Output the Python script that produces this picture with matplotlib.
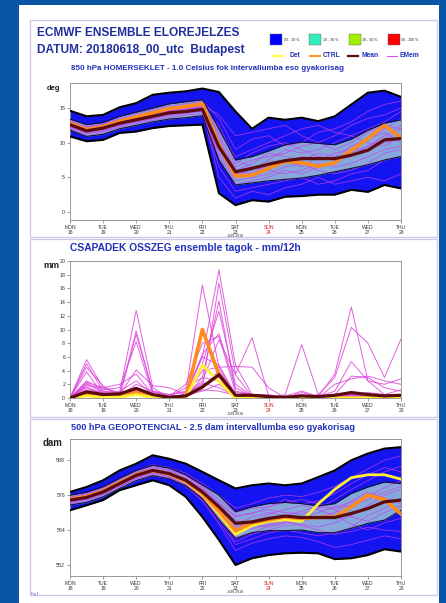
import numpy as np
import matplotlib
matplotlib.use('Agg')
import matplotlib.pyplot as plt
from matplotlib.patches import Rectangle
from matplotlib.lines import Line2D
import matplotlib.transforms as mtransforms

plt.rcParams['font.family'] = ['Liberation Sans', 'DejaVu Sans']

W, H = 446, 603

# time axis: 12h steps from MON 18 00utc to THU 28 00utc
steps = np.arange(0, 10.5, 0.5)
day_names = ['MON', 'TUE', 'WED', 'THU', 'FRI', 'SAT', 'SUN', 'MON', 'TUE', 'WED', 'THU']
day_nums = ['18', '19', '20', '21', '22', '23', '24', '25', '26', '27', '28']

# ---- 850 hPa temperature (deg C) ----
t850_max = [14.6, 13.8, 14.0, 15.1, 15.7, 16.9, 17.2, 17.4, 17.8, 17.3, 14.5, 12.0, 13.6, 13.3, 13.6, 13.1, 13.8, 15.5, 17.2, 17.5, 16.6]
t850_min = [10.9, 10.2, 10.4, 11.4, 11.6, 12.1, 12.4, 12.5, 12.6, 2.7, 1.0, 1.7, 1.5, 2.2, 2.3, 2.5, 2.5, 3.2, 2.9, 3.9, 3.4]
t850_band_hi = [13.4, 12.6, 12.9, 13.8, 14.4, 15.0, 15.6, 15.9, 16.2, 12.0, 7.5, 8.0, 8.8, 9.7, 10.1, 9.9, 9.7, 10.5, 11.8, 12.8, 13.3]
t850_band_lo = [11.8, 10.9, 11.2, 12.0, 12.5, 13.0, 13.4, 13.6, 13.9, 7.5, 3.9, 4.2, 4.5, 4.7, 4.9, 5.3, 5.8, 6.3, 6.8, 7.5, 8.0]
t850_mean = [12.6, 11.7, 12.1, 12.8, 13.3, 13.8, 14.3, 14.5, 14.8, 9.4, 5.8, 6.3, 6.9, 7.4, 7.7, 7.7, 7.7, 8.2, 8.9, 10.4, 10.6]
t850_ctrl = [12.8, 11.9, 12.3, 13.1, 13.7, 14.3, 14.9, 15.2, 15.6, 9.7, 5.2, 5.3, 6.3, 7.3, 7.1, 6.6, 7.1, 8.9, 10.6, 12.5, 10.7]
t850_members = [
    [12.9, 12.0, 12.4, 13.2, 13.8, 14.5, 15.0, 15.3, 15.6, 11.0, 7.0, 8.5, 9.5, 10.0, 9.0, 8.0, 7.5, 9.0, 10.5, 12.0, 13.5],
    [12.3, 11.4, 11.8, 12.5, 13.0, 13.4, 13.9, 14.2, 14.5, 8.0, 4.5, 5.0, 5.5, 6.5, 7.0, 6.0, 5.5, 6.0, 7.0, 8.5, 9.0],
    [13.2, 12.3, 12.7, 13.5, 14.2, 14.8, 15.3, 15.6, 16.0, 13.5, 9.0, 10.5, 11.0, 9.5, 10.0, 11.5, 12.0, 13.0, 14.5, 15.5, 16.0],
    [12.0, 11.0, 11.5, 12.2, 12.8, 13.2, 13.6, 14.0, 14.2, 6.5, 3.0, 3.5, 4.0, 4.5, 5.0, 4.0, 4.5, 5.5, 6.0, 7.5, 8.0],
    [12.7, 11.9, 12.3, 13.0, 13.6, 14.1, 14.6, 14.9, 15.2, 10.0, 6.5, 7.5, 8.0, 8.5, 9.5, 10.0, 9.0, 10.0, 11.5, 12.5, 12.0],
    [12.5, 11.6, 12.0, 12.7, 13.2, 13.7, 14.2, 14.4, 14.7, 9.0, 5.5, 6.0, 7.5, 9.0, 8.5, 9.0, 10.0, 11.0, 10.0, 9.5, 11.0],
    [12.8, 12.1, 12.2, 12.9, 13.5, 14.0, 14.5, 14.8, 15.0, 12.5, 7.5, 6.5, 6.0, 5.5, 6.0, 7.0, 6.5, 7.0, 8.0, 9.0, 9.5],
    [12.4, 11.5, 12.0, 12.8, 13.4, 13.9, 14.3, 14.6, 14.9, 7.5, 4.0, 4.5, 5.0, 6.0, 5.5, 6.5, 7.0, 8.5, 9.5, 11.0, 12.5],
    [13.0, 12.2, 12.6, 13.3, 13.9, 14.4, 14.9, 15.2, 15.4, 14.0, 11.0, 11.5, 12.0, 12.5, 11.0, 10.0, 11.0, 12.5, 13.5, 14.0, 15.0],
    [12.2, 11.3, 11.7, 12.4, 13.0, 13.5, 14.0, 14.3, 14.6, 5.0, 2.0, 3.0, 2.5, 3.5, 4.0, 5.0, 4.0, 4.5, 5.0, 4.5, 5.5],
    [12.6, 11.8, 12.1, 12.9, 13.4, 13.9, 14.4, 14.7, 15.0, 9.5, 6.0, 7.0, 8.5, 8.0, 7.5, 8.5, 8.0, 9.5, 10.5, 11.5, 10.0],
    [12.9, 11.9, 12.3, 13.1, 13.7, 14.2, 14.7, 15.0, 15.3, 11.5, 8.0, 9.0, 10.0, 11.0, 12.0, 12.5, 11.5, 11.0, 12.0, 13.0, 14.5],
    [12.7, 11.7, 12.2, 13.0, 13.5, 14.0, 14.6, 14.9, 15.1, 10.5, 6.0, 5.5, 7.0, 7.0, 8.0, 7.5, 8.5, 9.0, 9.0, 10.0, 10.5],
    [12.5, 11.6, 11.9, 12.6, 13.1, 13.6, 14.1, 14.5, 14.8, 8.5, 5.0, 6.5, 6.5, 7.5, 6.5, 8.0, 7.5, 8.0, 9.5, 10.5, 12.0],
]

# ---- precipitation (mm/12h) ----
rr_mean = [0, 0.9, 0.5, 0.6, 1.4, 0.5, 0.1, 0.3, 1.6, 3.4, 0.4, 0.4, 0.2, 0.1, 0.3, 0.2, 0.4, 0.8, 0.5, 0.3, 0.4]
rr_ctrl = [0, 0.6, 0.2, 0.3, 0.8, 0.1, 0, 0, 10.0, 3.4, 0, 0, 0, 0, 0, 0, 0, 0, 0, 0, 0]
rr_det = [0, 0.3, 0.1, 0.1, 0.5, 0.1, 0, 0, 4.8, 2.4, 0, 0, 0, 0, 0, 0, 0, 0, 0, 0, 0]
rr_members = [
    [0, 5.6, 1.5, 0.5, 1.2, 0.3, 0, 0.5, 6.0, 18.7, 4.8, 0.5, 0, 0.2, 0.5, 0.1, 0, 0.3, 0.5, 0.2, 0.3],
    [0, 5.0, 1.0, 0.8, 12.8, 1.5, 0, 0.2, 1.5, 16.8, 3.5, 8.8, 0.3, 0, 0.2, 0, 0.3, 0.5, 0.2, 0.5, 1.2],
    [0, 4.5, 1.8, 0.3, 9.8, 0.8, 0.5, 1.0, 16.5, 4.5, 4.6, 4.5, 1.5, 0, 0.3, 0.2, 0, 0, 0.2, 0, 0],
    [0, 3.8, 0.5, 0.2, 9.3, 1.0, 0.2, 1.5, 3.0, 14.2, 1.0, 0.5, 0, 0.5, 7.8, 0.5, 0, 0, 0.5, 0.3, 0.2],
    [0, 2.5, 1.2, 1.5, 8.2, 0.5, 0, 0.3, 5.0, 12.7, 2.0, 0.3, 0, 0, 0.8, 0.2, 3.5, 13.3, 2.5, 0.5, 0.5],
    [0, 2.2, 0.8, 0.5, 4.1, 1.8, 1.5, 0.5, 6.4, 9.4, 1.5, 0.2, 0, 0.2, 0, 0.5, 3.0, 10.3, 8.0, 3.0, 8.6],
    [0, 1.8, 1.5, 2.0, 3.5, 0.5, 0.3, 2.0, 8.0, 9.0, 0.8, 0.5, 0.2, 0, 0.2, 0.2, 1.0, 5.3, 2.5, 2.0, 2.8],
    [0, 1.5, 0.5, 1.0, 2.5, 0.5, 0, 0.5, 2.5, 8.5, 3.4, 0.2, 0, 0.3, 1.0, 0.2, 0.5, 3.2, 3.0, 1.5, 1.0],
    [0, 1.2, 0.8, 0.3, 2.0, 1.0, 0.5, 0.8, 6.0, 4.8, 0.5, 0.2, 0.1, 0, 0.3, 0, 2.0, 2.8, 3.2, 2.5, 2.0],
    [0, 2.0, 1.0, 0.5, 1.6, 0.3, 0.2, 0.5, 4.0, 4.5, 0.3, 0, 0, 0, 0, 0.1, 0.3, 0.5, 0.8, 0.5, 0.3],
    [0, 0.8, 0.5, 0.3, 1.2, 0.5, 0, 0.3, 1.5, 4.0, 0.5, 0.2, 0, 0, 0.2, 0, 0.2, 0.3, 0.2, 0.2, 0.5],
    [0, 1.0, 0.3, 0.2, 0.8, 0.2, 0, 0.2, 3.0, 2.5, 0.2, 0, 0, 0, 0, 0, 0.1, 0.2, 0.5, 0.3, 0.2],
    [0, 0.5, 0.2, 0.5, 0.5, 0.2, 0, 0.5, 2.0, 3.0, 0.5, 0.5, 0.5, 0, 0, 0, 0.5, 0.2, 0, 0, 0],
    [0, 2.3, 1.5, 0.8, 1.0, 0.5, 0.2, 0.5, 1.0, 2.0, 0.2, 0, 0, 0, 0, 0.2, 0.3, 0.5, 0.3, 0.2, 0],
    [0, 1.6, 0.7, 0.4, 1.3, 0.4, 0.1, 0.4, 2.2, 1.5, 0.3, 0.1, 0, 0, 0.1, 0.1, 0.2, 0.4, 0.3, 0.4, 0.1],
    [0, 0.9, 0.4, 0.6, 0.9, 0.3, 0.1, 0.2, 1.2, 1.0, 0.4, 0.1, 0, 0, 0, 0, 0.2, 0.1, 0.2, 0.1, 0.3],
]

# ---- 500 hPa geopotential (dam) ----
z500_max = [577.1, 578.8, 581.1, 584.5, 586.8, 589.7, 588.5, 586.8, 584.0, 581.1, 578.3, 579.4, 580.0, 579.4, 580.0, 582.2, 584.5, 588.0, 590.3, 592.0, 592.5]
z500_min = [570.8, 572.5, 574.3, 577.7, 579.4, 581.1, 579.4, 575.4, 568.5, 560.6, 552.0, 554.3, 555.4, 556.0, 556.2, 556.0, 554.0, 554.3, 555.4, 557.4, 556.6]
z500_band_hi = [576.0, 577.0, 578.9, 581.8, 584.5, 586.3, 585.3, 583.0, 579.5, 576.0, 570.3, 572.0, 573.1, 573.5, 573.1, 572.3, 573.1, 576.6, 578.8, 580.5, 580.0]
z500_band_lo = [572.6, 573.5, 575.4, 578.3, 581.0, 582.7, 581.6, 579.2, 574.8, 567.5, 561.1, 563.1, 563.8, 563.8, 564.0, 563.1, 563.1, 564.6, 566.3, 567.4, 570.8]
z500_mean = [574.3, 575.2, 577.1, 580.0, 582.8, 584.5, 583.4, 581.1, 577.1, 572.0, 566.3, 566.8, 568.0, 568.8, 568.3, 568.3, 568.3, 569.7, 571.4, 573.7, 574.3]
z500_ctrl = [574.6, 575.5, 577.4, 580.3, 583.0, 584.5, 583.3, 580.8, 576.5, 570.5, 563.8, 566.5, 567.5, 568.5, 568.0, 568.3, 568.5, 572.0, 576.0, 574.5, 569.5]
z500_det = [574.5, 575.4, 577.3, 580.2, 582.9, 584.4, 583.2, 580.5, 576.0, 569.5, 562.5, 565.5, 567.0, 567.5, 567.0, 573.0, 578.0, 582.0, 583.0, 583.0, 581.5]
z500_members = [
    [575.5, 576.5, 578.5, 581.5, 584.5, 586.5, 585.5, 583.5, 580.0, 576.0, 571.5, 573.0, 575.0, 576.0, 575.5, 577.0, 579.0, 582.0, 585.0, 588.0, 589.5],
    [573.5, 574.5, 576.5, 579.0, 581.5, 583.0, 582.0, 579.0, 574.0, 566.0, 557.0, 559.5, 561.0, 562.0, 561.5, 560.0, 558.0, 559.0, 560.5, 562.0, 561.0],
    [574.0, 575.0, 577.0, 580.0, 582.5, 584.0, 583.0, 580.5, 576.0, 570.0, 565.0, 567.0, 569.5, 571.0, 572.5, 571.0, 569.0, 566.0, 564.0, 566.5, 568.0],
    [575.0, 576.0, 577.8, 580.8, 583.5, 585.5, 584.5, 582.5, 578.5, 573.5, 568.5, 570.0, 571.0, 570.0, 569.5, 571.5, 574.5, 578.0, 581.0, 584.0, 586.0],
    [573.0, 574.0, 576.0, 579.0, 582.0, 583.8, 582.5, 579.8, 575.0, 568.0, 560.0, 562.5, 564.0, 565.5, 566.0, 565.0, 566.5, 569.0, 572.5, 576.0, 578.0],
    [574.5, 575.5, 577.3, 580.2, 583.0, 584.8, 583.8, 581.5, 577.5, 572.5, 567.5, 566.0, 565.0, 566.5, 568.0, 570.0, 572.0, 573.5, 575.5, 578.5, 581.0],
    [574.2, 575.0, 576.8, 579.5, 582.3, 584.2, 583.0, 580.8, 576.8, 571.0, 563.5, 564.5, 566.0, 567.0, 565.5, 564.0, 562.5, 563.5, 565.0, 564.0, 563.5],
    [575.2, 576.2, 578.2, 581.0, 583.8, 585.8, 584.8, 582.8, 579.0, 574.5, 570.0, 571.5, 572.0, 573.5, 574.5, 573.0, 571.5, 572.5, 574.5, 577.0, 579.0],
    [573.8, 574.8, 576.6, 579.6, 582.2, 584.0, 582.8, 580.2, 575.5, 569.0, 561.5, 563.0, 565.5, 566.5, 567.0, 568.5, 570.0, 574.0, 577.0, 575.0, 573.0],
    [574.0, 575.2, 577.2, 580.0, 582.8, 584.6, 583.6, 581.2, 577.0, 572.0, 566.0, 568.5, 570.0, 569.0, 570.5, 572.0, 571.0, 568.5, 567.0, 570.0, 572.5],
    [574.6, 575.6, 577.6, 580.6, 583.3, 585.0, 584.0, 581.8, 578.0, 573.0, 569.0, 569.5, 572.0, 574.5, 573.0, 574.0, 576.5, 580.0, 583.0, 585.5, 584.0],
    [573.6, 574.6, 576.4, 579.3, 582.0, 583.5, 582.3, 579.5, 574.5, 567.0, 559.0, 561.0, 563.0, 564.0, 563.0, 562.0, 563.0, 565.0, 569.0, 571.5, 575.0],
]

C_BLUE = '#1414f0'
C_BAND = '#86a8da'
C_MEM = '#cc3cf0'
C_MEAN = '#5a0c0c'
C_CTRL = '#ff8a1e'
C_DET = '#fff030'
C_TITLE = '#1f2f9f'
C_SUB = '#2233bb'


def px_rect(x0, y0, x1, y1):
    return [x0 / W, 1 - y1 / H, (x1 - x0) / W, (y1 - y0) / H]


fig = plt.figure(figsize=(W / 100, H / 100), dpi=100, facecolor='#0a55a6')

# white page and panel frames
fig.patches.append(Rectangle((19 / W, 0), 420 / W, 1 - 5 / H, transform=fig.transFigure,
                             facecolor='white', edgecolor='none', zorder=-5))
for y0, y1 in [(20, 237), (239, 417), (419, 595)]:
    fig.patches.append(Rectangle((30 / W, 1 - y1 / H), 407 / W, (y1 - y0) / H, transform=fig.transFigure,
                                 facecolor='none', edgecolor='#c8c8ec', lw=0.9, zorder=-4))

fig.text(37 / W, 1 - 33 / H, 'ECMWF ENSEMBLE ELOREJELZES', fontsize=8.6, fontweight='bold',
         color=C_TITLE, va='center')
fig.text(37 / W, 1 - 50 / H, 'DATUM: 20180618_00_utc  Budapest', fontsize=8.6, fontweight='bold',
         color=C_TITLE, va='center')

# legend boxes
prob_labels = ['03 - 10 %', '10 - 30 %', '30 - 50 %', '50 - 100 %']
prob_colors = ['#0000ff', '#33eebb', '#a0f000', '#ff0000']
for i, (lab, col) in enumerate(zip(prob_labels, prob_colors)):
    x0 = 270 + i * 39.3
    fig.patches.append(Rectangle((x0 / W, 1 - 45 / H), 12 / W, 11 / H, transform=fig.transFigure,
                                 facecolor=col, edgecolor='#666666', lw=0.3, zorder=2))
    fig.text((x0 + 13.5) / W, 1 - 40 / H, lab, fontsize=2.6, color='#222222', va='center')

line_labels = ['Det', 'CTRL', 'Mean', 'EMem']
line_colors = ['#ffff44', '#ff9933', '#5a1010', '#dd55ee']
line_x = [273, 310, 348, 387]
for lab, col, x0 in zip(line_labels, line_colors, line_x):
    fig.lines.append(Line2D([x0 / W, (x0 + 10) / W], [1 - 55.5 / H] * 2, transform=fig.transFigure,
                            color=col, lw=1.6 if lab != 'EMem' else 0.8))
    fig.text((x0 + 13) / W if lab != 'Det' else (x0 + 16) / W, 1 - 55.5 / H, lab, fontsize=4.8,
             fontweight='bold', color=C_SUB, va='center')


def style_axes(ax, yticks, ylim):
    ax.set_xlim(0, 10)
    ax.set_ylim(*ylim)
    ax.set_yticks(yticks)
    ax.set_xticks(range(11))
    ax.set_xticklabels([f'{d}\n{n}' for d, n in zip(day_names, day_nums)], fontsize=3.6,
                       color='#333333', linespacing=1.0)
    ax.get_xticklabels()[6].set_color('#dd2222')
    ax.tick_params(axis='y', labelsize=3.8, labelcolor='#333333')
    ax.tick_params(length=2, width=0.4, color='#555555', pad=1.5)
    for sp in ax.spines.values():
        sp.set_color('#8a8a8a')
        sp.set_linewidth(0.6)
    trans = mtransforms.blended_transform_factory(ax.transData, ax.transAxes)
    ax.text(5, -0.105, 'JUN 2018', transform=trans, fontsize=2.6, color='#333333',
            ha='center', va='top')


def ensemble_panel(ax, vmin, vmax, lo, hi, members, mean, ctrl, det=None):
    ax.fill_between(steps, vmin, vmax, color=C_BLUE, lw=0, zorder=1)
    ax.plot(steps, vmin, color='black', lw=1.5, zorder=4)
    ax.plot(steps, vmax, color='black', lw=1.5, zorder=4)
    ax.fill_between(steps, lo, hi, color=C_BAND, lw=0, zorder=2)
    for m in members:
        ax.plot(steps, m, color=C_MEM, lw=0.6, alpha=0.75, zorder=3)
    ax.plot(steps, lo, color='#111133', lw=0.8, zorder=4)
    ax.plot(steps, hi, color='#111133', lw=0.8, zorder=4)
    if det is not None:
        ax.plot(steps, det, color=C_DET, lw=2.0, zorder=4.5)
    ax.plot(steps, ctrl, color=C_CTRL, lw=2.6, zorder=5)
    ax.plot(steps, mean, color=C_MEAN, lw=2.3, zorder=6)


# panel 1: 850 hPa temperature
ax1 = fig.add_axes(px_rect(70, 83, 401, 220))
ensemble_panel(ax1, t850_min, t850_max, t850_band_lo, t850_band_hi, t850_members, t850_mean, t850_ctrl)
style_axes(ax1, [0, 5, 10, 15], (-1.15, 18.6))
fig.text(71 / W, 1 - 69 / H, '850 hPa HOMERSEKLET - 1.0 Celsius fok intervallumba eso gyakorisag',
         fontsize=5.75, fontweight='bold', color=C_SUB, va='center')
fig.text(47 / W, 1 - 88 / H, 'deg', fontsize=5.5, fontweight='bold', color='#222222', va='center')

# panel 2: precipitation
ax2 = fig.add_axes(px_rect(70, 261, 401, 398))
for m in rr_members:
    ax2.plot(steps, m, color='#dd44dd', lw=0.7, alpha=0.85, zorder=2)
ax2.plot(steps, rr_ctrl, color=C_CTRL, lw=2.6, zorder=4)
ax2.plot(steps, rr_det, color=C_DET, lw=2.0, zorder=5)
ax2.plot(steps, rr_mean, color=C_MEAN, lw=2.3, zorder=6)
style_axes(ax2, range(0, 21, 2), (0, 20))
fig.text(70 / W, 1 - 248 / H, 'CSAPADEK OSSZEG ensemble tagok - mm/12h', fontsize=7.4,
         fontweight='bold', color=C_SUB, va='center')
fig.text(43 / W, 1 - 266 / H, 'mm', fontsize=6.5, fontweight='bold', color='#222222', va='center')

# panel 3: 500 hPa geopotential
ax3 = fig.add_axes(px_rect(70, 439, 401, 576))
ensemble_panel(ax3, z500_min, z500_max, z500_band_lo, z500_band_hi, z500_members, z500_mean, z500_ctrl, z500_det)
style_axes(ax3, [552, 564, 576, 588], (548.2, 595.3))
fig.text(71 / W, 1 - 428 / H, '500 hPa GEOPOTENCIAL - 2.5 dam intervallumba eso gyakorisag',
         fontsize=6.6, fontweight='bold', color=C_SUB, va='center')
fig.text(43 / W, 1 - 443 / H, 'dam', fontsize=7, fontweight='bold', color='#222222', va='center')

fig.text(31 / W, 1 - 594 / H, 'Fig 1', fontsize=2.5, color='#4455bb', va='center')

fig.savefig('out.png', dpi=100, facecolor=fig.get_facecolor())
